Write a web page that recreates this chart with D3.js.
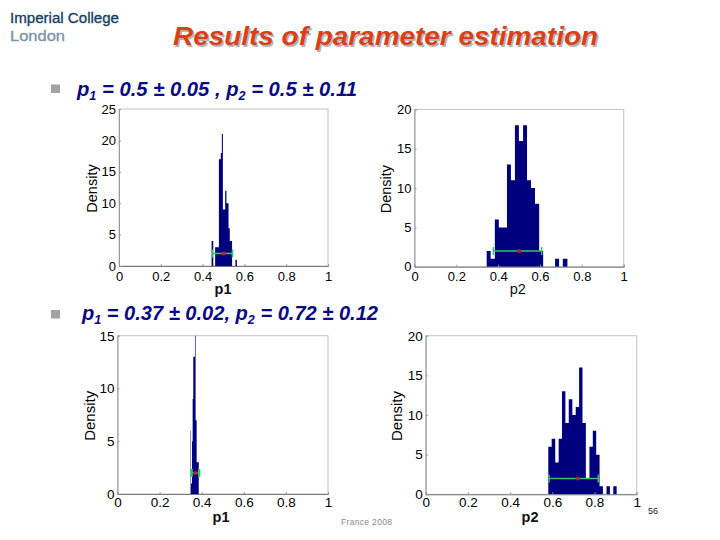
<!DOCTYPE html>
<html><head><meta charset="utf-8">
<style>html,body{margin:0;padding:0;background:#fff}svg{display:block}
text{font-family:"Liberation Sans",Arial,sans-serif}</style>
<script src="https://cdn.jsdelivr.net/npm/d3@7"></script></head><body>
<script>
// ---- data ----
const xTicks = [0, 0.2, 0.4, 0.6, 0.8, 1];
const xTickLabels = ["0", "0.2", "0.4", "0.6", "0.8", "1"];

const p1aEdges = [.443,.451,.460,.468,.478,.487,.492,.497,.508,.514,.524,.530,.541,.557,.564];
const p1aDensity = [4,0,3,3,17,18,21,9,12,10,6,4,0,1];
const p1aYTicks = [0,5,10,15,20,25];
const p1aInterval = [0.447,0.5,0.543];

const p2aEdges = [.345,.364,.384,.403,.422,.442,.461,.480,.499,.519,.538,.557,.576,.596,.615,.672,.691,.709,.731];
const p2aDensity = [2,1,6,5,5,13,11,18,16,18,11,10,8,2,0,1,0,1];
const p2aYTicks = [0,5,10,15,20];
const p2aInterval = [0.377,0.5,0.608];

const p1bEdges = [.347,.349,.354,.357,.360,.368,.371,.376,.386];
const p1bDensity = [6,1,5,9,13,15,7,3];
const p1bYTicks = [0,5,10,15];
const p1bInterval = [0.352,0.37,0.388];

const p2bEdges = [.581,.597,.614,.630,.646,.662,.678,.695,.711,.727,.743,.759,.776,.792,.808,.824,.840,.857,.873,.889,.905];
const p2bDensity = [6,7,4,7,13,9,12,10,11,16,9,2,6,8,5,1,0,1,0,1];
const p2bYTicks = [0,5,10,15,20];
const p2bInterval = [0.585,0.72,0.818];

const titleText = "Results of parameter estimation";
const yLabel = "Density";

// ---- drawing ----
const svg = d3.select("body").append("svg").attr("width",720).attr("height",540);

const panels = [
 {edges:p1aEdges,dens:p1aDensity,yt:p1aYTicks,iv:p1aInterval,name:"p1",x0:119,x1:328,top:109,bot:266,yMax:25,yl:92,lx:223,lb:294,tb:281,fs:13,dfs:14.5,cap:1.6,bold:true},
 {edges:p2aEdges,dens:p2aDensity,yt:p2aYTicks,iv:p2aInterval,name:"p2",x0:414.5,x1:623.7,top:109.5,bot:266.7,yMax:20,yl:386,lx:517.7,lb:294,tb:281,fs:13,dfs:14.5,cap:1.4},
 {edges:p1bEdges,dens:p1bDensity,yt:p1bYTicks,iv:p1bInterval,name:"p1",x0:117.5,x1:328,top:335.7,bot:494,yMax:15,yl:90,lx:221,lb:522,tb:507,fs:13.5,dfs:15,cap:2.4,bold:true},
 {edges:p2bEdges,dens:p2bDensity,yt:p2bYTicks,iv:p2bInterval,name:"p2",x0:425.7,x1:636.7,top:335.7,bot:494.3,yMax:20,yl:397,lx:530,lb:522,tb:507,fs:13.5,dfs:15,cap:1.4,bold:true}
];

panels.forEach(p=>{
  const x = d3.scaleLinear().domain([0,1]).range([p.x0,p.x1]);
  const y = d3.scaleLinear().domain([0,p.yMax]).range([p.bot,p.top]);
  const g = svg.append("g");
  // box
  g.append("rect").attr("x",p.x0).attr("y",p.top).attr("width",p.x1-p.x0).attr("height",p.bot-p.top)
    .attr("fill","#fff").attr("stroke","#c4c4c4").attr("stroke-width",1);
  // histogram outline as a single stepped area (no seams between adjacent bins)
  const steps = p.edges.map((e,i)=>({e, d: p.dens[Math.min(i,p.dens.length-1)]}));
  const area = d3.area().x(s=>x(s.e)).y0(y(0)).y1(s=>y(s.d)).curve(d3.curveStepAfter);
  g.append("path").datum(steps).attr("d",area).attr("fill","#00007f");
  // axes
  const ax = d3.axisBottom(x).tickValues(xTicks).tickFormat((d,i)=>xTickLabels[i]).tickSize(-2).tickPadding(0);
  const gx = g.append("g").attr("transform",`translate(0,${p.bot})`).call(ax);
  gx.select(".domain").attr("stroke","#777");
  gx.selectAll(".tick line").attr("stroke","#999");
  gx.selectAll("text").attr("font-size",p.fs).attr("fill","#000").attr("y",p.tb-p.bot).attr("dy",0);
  const ay = d3.axisLeft(y).tickValues(p.yt).tickSize(-2).tickPadding(3);
  const gy = g.append("g").attr("transform",`translate(${p.x0},0)`).call(ay);
  gy.select(".domain").attr("stroke","#999");
  gy.selectAll(".tick line").attr("stroke","#999");
  gy.selectAll("text").attr("font-size",p.fs).attr("fill","#000");
  // interval
  const yi = y(2);
  g.append("line").attr("x1",x(p.iv[0])).attr("x2",x(p.iv[2])).attr("y1",yi).attr("y2",yi)
    .attr("stroke","#33c46a").attr("stroke-width",1.5);
  [p.iv[0],p.iv[2]].forEach(v=>g.append("line").attr("x1",x(v)).attr("x2",x(v)).attr("y1",yi-4).attr("y2",yi+4)
    .attr("stroke","#33c46a").attr("stroke-width",p.cap));
  g.append("circle").attr("cx",x(p.iv[1])).attr("cy",yi).attr("r",2).attr("fill","#cf1040");
  // labels
  g.append("text").attr("x",p.lx).attr("y",p.lb).attr("text-anchor","middle").attr("font-size",14.5)
    .attr("font-weight",p.bold?"bold":"normal").attr("fill","#111").text(p.name);
  g.append("text").attr("transform",`translate(${p.yl+5},${(p.top+p.bot)/2+1}) rotate(-90)`)
    .attr("text-anchor","middle").attr("font-size",p.dfs).attr("fill","#000").text(yLabel);
});

// title with soft shadow
[["#b5b5b5",1.5],["#db3f17",0]].forEach(([c,o])=>{
  svg.append("text").attr("x",173+o).attr("y",45+o).attr("font-size",26.5).attr("font-weight","bold")
    .attr("font-style","italic").attr("fill",c).attr("textLength",425).attr("lengthAdjust","spacingAndGlyphs").text(titleText);
});

// logo
svg.append("text").attr("x",10).attr("y",23).attr("font-size",15.5).attr("fill","#163f63")
  .attr("stroke","#163f63").attr("stroke-width",0.35)
  .attr("textLength",109).attr("lengthAdjust","spacingAndGlyphs").text("Imperial College");
svg.append("text").attr("x",10).attr("y",41).attr("font-size",15.5).attr("fill","#7e93a8")
  .attr("stroke","#7e93a8").attr("stroke-width",0.35)
  .attr("textLength",55).attr("lengthAdjust","spacingAndGlyphs").text("London");

// bullets
function bullet(bx,by,tx,ty,parts,len){
  svg.append("rect").attr("x",bx).attr("y",by).attr("width",9).attr("height",8.5).attr("fill","#a3a3a3");
  const t = svg.append("text").attr("x",tx).attr("y",ty).attr("font-size",20).attr("font-weight","bold")
    .attr("font-style","italic").attr("fill","#0a0a85").attr("textLength",len).attr("lengthAdjust","spacingAndGlyphs");
  let lowered = false;
  parts.forEach(([s,sub])=>{
    t.append("tspan").attr("font-size",sub?12.5:20).attr("dy",sub?4:(lowered?-4:0)).text(s);
    lowered = !!sub;
  });
}
bullet(51,84.5,77,96,[["p"],["1",1],[" = 0.5 ± 0.05 , p"],["2",1],[" = 0.5 ± 0.11"]],280);
bullet(51,310,82,320,[["p"],["1",1],[" = 0.37 ± 0.02, p"],["2",1],[" = 0.72 ± 0.12"]],296);

// footer
svg.append("text").attr("x",341).attr("y",525).attr("font-size",8.5).attr("fill","#8a8a8a")
  .attr("textLength",51).text("France 2008");
svg.append("text").attr("x",648).attr("y",514).attr("font-size",9).attr("fill","#222").text("56");
</script></body></html>
